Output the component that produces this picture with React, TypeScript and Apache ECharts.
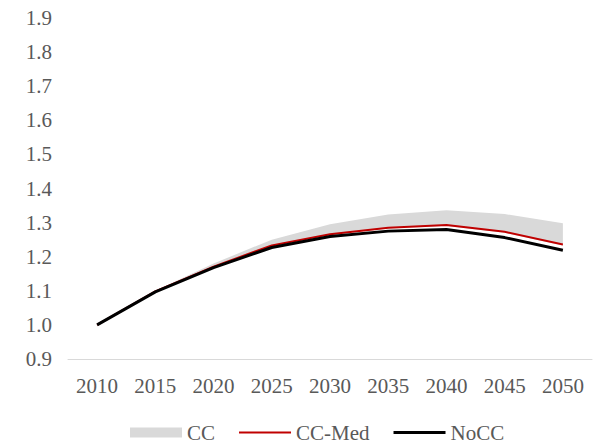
import React, { useEffect, useRef } from "react";
import * as echarts from "echarts";

const years = ["2010", "2015", "2020", "2025", "2030", "2035", "2040", "2045", "2050"];
const ccHigh = [1.0, 1.1, 1.18, 1.25, 1.295, 1.324, 1.336, 1.325, 1.298];
const ccLow = [1.0, 1.097, 1.17, 1.231, 1.264, 1.283, 1.29, 1.27, 1.233];
const ccMed = [1.0, 1.098, 1.171, 1.233, 1.266, 1.285, 1.293, 1.273, 1.236];
const noCC = [1.0, 1.097, 1.168, 1.227, 1.259, 1.275, 1.28, 1.256, 1.219];

const FONT = "'Liberation Serif', 'Times New Roman', serif";
const TXT = "#595959";

const RED_ICON = "path://M0,0 L0,0 M0,4 L52,4 L52,6 L0,6 Z M52,10 L52,10";
const BLACK_ICON = "path://M0,0 L0,0 M0,3.5 L52,3.5 L52,6.5 L0,6.5 Z M52,10 L52,10";

export default function App() {
  const ref = useRef<HTMLDivElement>(null);
  useEffect(() => {
    if (!ref.current) return;
    const chart = echarts.init(ref.current, undefined, { renderer: "svg" });
    const band = ccHigh.map((v, i) => +(v - ccLow[i]).toFixed(4));
    chart.setOption({
      animation: false,
      backgroundColor: "#ffffff",
      textStyle: { fontFamily: FONT },
      grid: { left: 68, right: 6, top: 18, bottom: 85, containLabel: false },
      legend: {
        left: 130,
        top: 422,
        padding: 0,
        itemWidth: 52,
        itemHeight: 10,
        itemGap: 24,
        textStyle: { fontFamily: FONT, fontSize: 21, color: TXT },
        data: [
          { name: "CC", icon: "rect" },
          { name: "CC-Med", icon: RED_ICON },
          { name: "NoCC", icon: BLACK_ICON },
        ],
      },
      xAxis: {
        type: "category",
        data: years,
        boundaryGap: true,
        axisLine: { show: true, lineStyle: { color: "#d9d9d9", width: 1 } },
        axisTick: { show: false },
        axisLabel: { fontFamily: FONT, fontSize: 21, color: TXT, margin: 16 },
        splitLine: { show: false },
      },
      yAxis: {
        type: "value",
        min: 0.9,
        max: 1.9,
        interval: 0.1,
        axisLine: { show: false },
        axisTick: { show: false },
        splitLine: { show: false },
        axisLabel: {
          fontFamily: FONT,
          fontSize: 21,
          color: TXT,
          margin: 16,
          formatter: (v: number) => v.toFixed(1),
        },
      },
      series: [
        {
          name: "CCbase",
          type: "line",
          stack: "cc",
          data: ccLow,
          symbol: "none",
          lineStyle: { width: 0, opacity: 0 },
          silent: true,
        },
        {
          name: "CC",
          type: "line",
          stack: "cc",
          data: band,
          symbol: "none",
          lineStyle: { width: 0, opacity: 0 },
          itemStyle: { color: "#d9d9d9" },
          areaStyle: { color: "#d9d9d9", opacity: 1 },
        },
        {
          name: "CC-Med",
          type: "line",
          data: ccMed,
          symbol: "none",
          itemStyle: { color: "#c00000" },
          lineStyle: { color: "#c00000", width: 2 },
        },
        {
          name: "NoCC",
          type: "line",
          data: noCC,
          symbol: "none",
          itemStyle: { color: "#000000" },
          lineStyle: { color: "#000000", width: 3 },
        },
      ],
    });
    return () => chart.dispose();
  }, []);
  return <div ref={ref} style={{ width: 598, height: 444, position: "absolute", left: 0, top: 0 }} />;
}
